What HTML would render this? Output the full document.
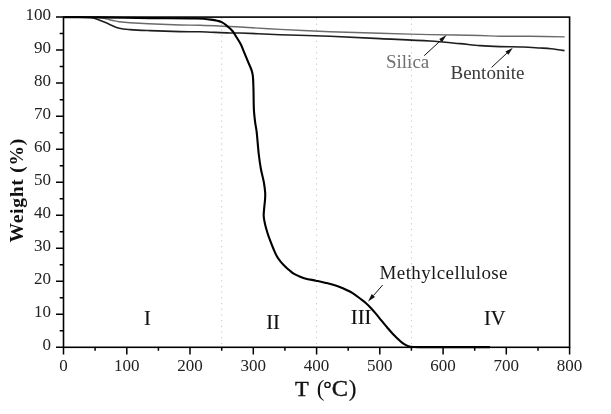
<!DOCTYPE html><html><head><meta charset="utf-8"><style>html,body{margin:0;padding:0;background:#fff;width:611px;height:414px;overflow:hidden}svg{display:block;will-change:transform}text{font-family:"Liberation Serif",serif}</style></head><body>
<svg width="611" height="414" viewBox="0 0 611 414">
<rect width="611" height="414" fill="#fff"/>
<line x1="221.7" y1="18" x2="221.7" y2="346" stroke="#c4c4c4" stroke-width="1" stroke-dasharray="1.2 4.5"/>
<line x1="316.6" y1="18" x2="316.6" y2="346" stroke="#c4c4c4" stroke-width="1" stroke-dasharray="1.2 4.5"/>
<line x1="411.4" y1="18" x2="411.4" y2="346" stroke="#c4c4c4" stroke-width="1" stroke-dasharray="1.2 4.5"/>
<path d="M63.50 17.30 C63.50 17.30 87.21 17.06 99.00 17.50 C101.37 17.59 103.67 18.40 106.00 18.90 C108.31 19.40 110.60 19.99 112.90 20.50 C114.93 20.95 116.94 21.52 119.00 21.80 C122.64 22.29 126.32 22.61 130.00 22.80 C146.66 23.67 163.33 24.40 180.00 25.00 C186.66 25.24 193.34 25.10 200.00 25.30 C210.00 25.60 220.00 26.08 230.00 26.50 C233.33 26.64 236.67 26.81 240.00 27.00 C253.33 27.77 266.66 28.70 280.00 29.40 C296.66 30.27 313.33 31.07 330.00 31.70 C346.66 32.33 363.33 32.72 380.00 33.20 C396.67 33.68 413.33 34.22 430.00 34.60 C446.66 34.98 463.34 35.12 480.00 35.50 C486.67 35.65 493.33 36.09 500.00 36.20 C510.00 36.36 520.00 36.19 530.00 36.30 C541.57 36.43 564.70 36.90 564.70 36.90" fill="none" stroke="#6a6a6a" stroke-width="1.4"/>
<path d="M63.50 17.30 C63.50 17.30 81.58 16.85 90.50 17.50 C93.42 17.71 96.24 18.90 99.00 19.90 C102.60 21.20 106.05 22.94 109.60 24.40 C112.85 25.74 116.02 27.44 119.40 28.30 C122.82 29.17 126.45 29.33 130.00 29.60 C136.65 30.10 143.33 30.33 150.00 30.60 C160.00 31.00 170.00 31.36 180.00 31.60 C186.66 31.76 193.34 31.61 200.00 31.80 C210.00 32.08 220.00 32.70 230.00 33.00 C233.33 33.10 236.67 32.89 240.00 33.00 C253.34 33.45 266.66 34.23 280.00 34.70 C296.66 35.29 313.34 35.55 330.00 36.20 C346.67 36.85 363.33 37.80 380.00 38.60 C396.67 39.40 413.35 39.96 430.00 41.00 C440.02 41.63 450.00 42.68 460.00 43.60 C466.67 44.21 473.32 45.10 480.00 45.60 C486.65 46.10 493.33 46.38 500.00 46.60 C507.66 46.85 515.34 46.73 523.00 47.00 C528.67 47.20 534.34 47.64 540.00 48.00 C543.67 48.24 547.35 48.41 551.00 48.80 C555.51 49.28 564.50 50.60 564.50 50.60" fill="none" stroke="#1e1e1e" stroke-width="1.6"/>
<path d="M63.50 17.20 C63.50 17.20 87.83 17.27 100.00 17.40 C116.67 17.57 133.33 17.91 150.00 18.10 C165.33 18.28 180.68 18.12 196.00 18.50 C200.98 18.62 205.98 18.91 210.90 19.60 C214.55 20.11 218.37 20.68 221.70 22.10 C224.17 23.15 226.21 25.24 228.30 27.00 C229.94 28.38 231.57 29.84 232.90 31.50 C234.30 33.24 235.32 35.29 236.50 37.20 C237.99 39.62 239.63 41.97 240.90 44.50 C242.30 47.30 243.30 50.30 244.50 53.20 C245.70 56.10 246.90 59.00 248.10 61.90 C249.30 64.80 250.72 67.63 251.70 70.60 C252.32 72.47 252.72 74.44 252.90 76.40 C253.32 80.91 253.36 85.46 253.50 90.00 C253.70 96.53 253.56 103.08 253.90 109.60 C254.13 113.98 254.66 118.35 255.20 122.70 C255.56 125.61 256.27 128.48 256.60 131.40 C257.47 139.08 257.92 146.82 258.80 154.50 C259.35 159.35 260.03 164.20 260.90 169.00 C261.69 173.37 263.02 177.63 263.80 182.00 C264.45 185.63 264.95 189.32 265.20 193.00 C265.35 195.32 265.15 197.67 265.00 200.00 C264.85 202.34 264.49 204.66 264.30 207.00 C264.06 210.00 263.58 213.02 263.70 216.00 C263.81 218.68 264.41 221.37 265.00 224.00 C265.68 227.03 266.57 230.03 267.50 233.00 C268.31 235.60 269.25 238.15 270.20 240.70 C271.18 243.32 272.20 245.93 273.30 248.50 C274.37 251.00 275.37 253.54 276.70 255.90 C277.87 257.98 279.30 259.94 280.80 261.80 C282.20 263.54 283.80 265.13 285.40 266.70 C286.87 268.13 288.42 269.49 290.00 270.80 C291.32 271.89 292.64 273.02 294.10 273.90 C295.64 274.82 297.33 275.51 299.00 276.20 C300.97 277.01 302.95 277.86 305.00 278.40 C308.61 279.36 312.34 279.91 316.00 280.70 C319.00 281.35 322.01 281.98 325.00 282.70 C328.28 283.48 331.58 284.21 334.80 285.20 C337.32 285.98 339.79 286.93 342.20 288.00 C345.59 289.50 349.02 291.01 352.20 292.90 C355.19 294.68 357.89 296.93 360.70 299.00 C362.33 300.20 363.99 301.37 365.50 302.70 C367.29 304.27 368.97 305.97 370.60 307.70 C372.40 309.60 374.12 311.59 375.80 313.60 C377.75 315.93 379.57 318.36 381.50 320.70 C383.30 322.89 385.15 325.04 387.00 327.20 C388.72 329.21 390.40 331.26 392.20 333.20 C393.87 335.00 395.63 336.70 397.40 338.40 C398.90 339.84 400.36 341.34 402.00 342.60 C403.39 343.67 404.92 344.63 406.50 345.40 C407.72 346.00 409.05 346.53 410.40 346.70 C413.55 347.10 416.80 347.08 420.00 347.10 C443.33 347.22 490.00 347.10 490.00 347.10" fill="none" stroke="#000" stroke-width="2.1"/>
<rect x="63.5" y="17.1" width="506.1" height="330.2" fill="none" stroke="#000" stroke-width="1.6"/>
<path d="M56 347.3 H63.5 M56 314.3 H63.5 M56 281.3 H63.5 M56 248.2 H63.5 M56 215.2 H63.5 M56 182.2 H63.5 M56 149.2 H63.5 M56 116.2 H63.5 M56 83.1 H63.5 M56 50.1 H63.5 M56 17.1 H63.5 M59.7 330.8 H63.5 M59.7 297.8 H63.5 M59.7 264.8 H63.5 M59.7 231.7 H63.5 M59.7 198.7 H63.5 M59.7 165.7 H63.5 M59.7 132.7 H63.5 M59.7 99.7 H63.5 M59.7 66.6 H63.5 M59.7 33.6 H63.5 M63.5 347.3 V354.5 M126.8 347.3 V354.5 M190.0 347.3 V354.5 M253.3 347.3 V354.5 M316.6 347.3 V354.5 M379.8 347.3 V354.5 M443.1 347.3 V354.5 M506.3 347.3 V354.5 M569.6 347.3 V354.5 M95.1 347.3 V350.8 M158.4 347.3 V350.8 M221.7 347.3 V350.8 M284.9 347.3 V350.8 M348.2 347.3 V350.8 M411.4 347.3 V350.8 M474.7 347.3 V350.8 M538.0 347.3 V350.8" stroke="#000" stroke-width="1.5" fill="none"/>
<text x="51" y="349.8" font-size="17" text-anchor="end" fill="#222">0</text>
<text x="51" y="316.8" font-size="17" text-anchor="end" fill="#222">10</text>
<text x="51" y="283.8" font-size="17" text-anchor="end" fill="#222">20</text>
<text x="51" y="250.7" font-size="17" text-anchor="end" fill="#222">30</text>
<text x="51" y="217.7" font-size="17" text-anchor="end" fill="#222">40</text>
<text x="51" y="184.7" font-size="17" text-anchor="end" fill="#222">50</text>
<text x="51" y="151.7" font-size="17" text-anchor="end" fill="#222">60</text>
<text x="51" y="118.7" font-size="17" text-anchor="end" fill="#222">70</text>
<text x="51" y="85.6" font-size="17" text-anchor="end" fill="#222">80</text>
<text x="51" y="52.6" font-size="17" text-anchor="end" fill="#222">90</text>
<text x="51" y="19.6" font-size="17" text-anchor="end" fill="#222">100</text>
<text x="63.5" y="370.6" font-size="17" text-anchor="middle" fill="#222">0</text>
<text x="126.8" y="370.6" font-size="17" text-anchor="middle" fill="#222">100</text>
<text x="190.0" y="370.6" font-size="17" text-anchor="middle" fill="#222">200</text>
<text x="253.3" y="370.6" font-size="17" text-anchor="middle" fill="#222">300</text>
<text x="316.6" y="370.6" font-size="17" text-anchor="middle" fill="#222">400</text>
<text x="379.8" y="370.6" font-size="17" text-anchor="middle" fill="#222">500</text>
<text x="443.1" y="370.6" font-size="17" text-anchor="middle" fill="#222">600</text>
<text x="506.3" y="370.6" font-size="17" text-anchor="middle" fill="#222">700</text>
<text x="569.6" y="370.6" font-size="17" text-anchor="middle" fill="#222">800</text>
<text transform="translate(23.3 190.3) rotate(-90)" font-size="19.5" font-weight="bold" text-anchor="middle" letter-spacing="0.75" fill="#111">Weight (%)</text>
<g fill="#111" stroke="#111" stroke-width="0.4"><text transform="translate(295.0 395.6) scale(1.07 1)" font-size="21">T</text><text x="316.8" y="395.6" font-size="23" stroke-width="0">(</text><text transform="translate(331.7 395.6) scale(1.06 1)" font-size="23">C</text><text x="348.7" y="395.6" font-size="23" stroke-width="0.2">)</text></g><ellipse cx="327.5" cy="384.9" rx="2.6" ry="2.5" fill="none" stroke="#111" stroke-width="1.4"/>
<text x="147.5" y="324.7" font-size="20.5" text-anchor="middle" fill="#111" stroke="#111" stroke-width="0.15">I</text>
<text x="273.1" y="328.6" font-size="20.5" text-anchor="middle" fill="#111" stroke="#111" stroke-width="0.15">II</text>
<text x="361.1" y="324" font-size="20.5" text-anchor="middle" fill="#111" stroke="#111" stroke-width="0.15">III</text>
<text x="494.8" y="324.9" font-size="20.5" text-anchor="middle" fill="#111" stroke="#111" stroke-width="0.15">IV</text>
<text x="386" y="67.9" font-size="19" fill="#707070">Silica</text>
<text x="450.5" y="78.5" font-size="19" fill="#3a3a3a">Bentonite</text>
<text x="379.5" y="279.1" font-size="19" letter-spacing="0.4" fill="#1a1a1a">Methylcellulose</text>
<line x1="424.2" y1="55.7" x2="440.7" y2="40.5" stroke="#111" stroke-width="1"/><path d="M446.6 35.1 L442.2 42.1 L439.2 38.9 Z" fill="#111"/>
<line x1="491.6" y1="67.4" x2="506.9" y2="53.1" stroke="#111" stroke-width="1"/><path d="M512.8 47.7 L508.4 54.8 L505.4 51.5 Z" fill="#111"/>
<line x1="382.6" y1="285.1" x2="373.4" y2="295.6" stroke="#111" stroke-width="1"/><path d="M368.1 301.6 L371.7 294.1 L375.0 297.0 Z" fill="#111"/>
</svg></body></html>
